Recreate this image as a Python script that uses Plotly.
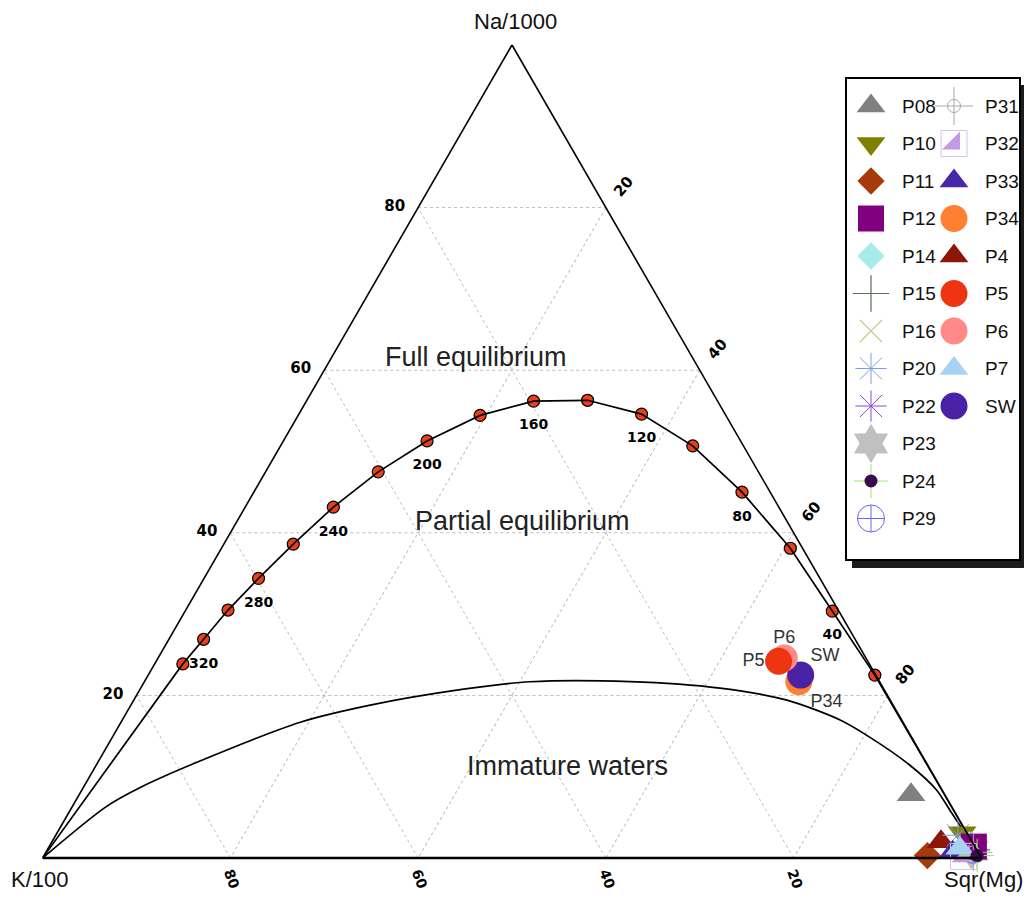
import plotly.graph_objects as go

# ---------------- data ----------------
# Full equilibrium curve (temperature marks, degC) in Na/1000 - K/100 - Sqr(Mg) percent
eq_temp = [340, 320, 300, 280, 260, 240, 220, 200, 180, 160, 140, 120, 100, 80, 60, 40, 20]
eq_na = [23.9, 26.9, 30.5, 34.4, 38.6, 43.2, 47.5, 51.3, 54.5, 56.2, 56.3, 54.6, 50.7, 45.0, 38.1, 30.4, 22.5]
eq_k = [73.2, 69.4, 65.0, 59.8, 54.0, 47.5, 40.5, 33.4, 26.2, 19.6, 13.8, 8.9, 5.4, 3.0, 1.3, 0.7, 0.1]
eq_mg = [3.0, 3.7, 4.5, 5.8, 7.4, 9.4, 12.0, 15.3, 19.4, 24.2, 29.9, 36.5, 43.9, 52.0, 60.6, 69.0, 77.4]
eq_labelled = [320, 280, 240, 200, 160, 120, 80, 40]

# Immature waters boundary
imm_na = [0, 6.3, 8.7, 11.8, 16.7, 18.8, 20.5, 21.7, 21.7, 20.9, 19.4, 17.0, 14.9, 11.4, 8.4, 5.7, 0]
imm_k = [100, 90.2, 85.2, 77.6, 64.2, 55.7, 46.3, 37.3, 26.6, 17.4, 11.0, 6.6, 4.5, 1.9, 0.6, 0.4, 0]
imm_mg = [0, 3.6, 6.1, 10.6, 19.1, 25.5, 33.1, 41.1, 51.7, 61.7, 69.5, 76.4, 80.6, 86.6, 91.0, 94.0, 100]

# Samples
samples = ["P08", "P10", "P11", "P12", "P14", "P15", "P16", "P20", "P22", "P23", "P24", "P29",
           "P31", "P32", "P33", "P34", "P4", "P5", "P6", "P7", "SW"]
s_na = [7.8, 3.1, 0.3, 1.4, 1.6, 1.0, 0.8, 2.8, 1.2, 0.9, 0.3, 1.0,
        0.7, 0.2, 0.7, 21.7, 2.0, 24.2, 24.6, 1.2, 22.5]
s_k = [3.6, 0.5, 5.6, 0.1, 0.5, 0.5, 0.8, 1.1, 0.6, 0.6, 0.3, 0.4,
       0.5, 1.8, 2.7, 8.6, 3.3, 9.5, 8.7, 1.7, 8.0]
s_mg = [88.7, 96.4, 94.1, 98.5, 97.9, 98.5, 98.4, 96.1, 98.2, 98.5, 99.4, 98.6,
        98.8, 98.0, 96.6, 69.7, 94.7, 66.3, 66.7, 97.1, 69.5]
labelled_samples = ["P5", "P6", "SW", "P34"]

tick_vals = [20, 40, 60, 80]
region_names = ["Full equilibrium", "Partial equilibrium", "Immature waters"]
axis_titles = ["Na/1000", "K/100", "Sqr(Mg)"]

# ---------------- styles / layout ----------------
OFF = 8                                # html body margin
W, H = 1032 - 2 * OFF, 900 - 2 * OFF   # figure size that fits the window without scrolling
style = {
    "P08": dict(symbol="triangle-up", color="#808080", size=25),
    "P10": dict(symbol="triangle-down", color="#808000", size=25),
    "P11": dict(symbol="diamond", color="#A63A0A", size=21),
    "P12": dict(symbol="square", color="#800080", size=26),
    "P14": dict(symbol="diamond", color="#A8ECEA", size=21),
    "P15": dict(symbol="cross-thin-open", color="#55705A", size=26, lw=1.2),
    "P16": dict(symbol="x-thin-open", color="#C8C890", size=22, lw=1.2),
    "P20": dict(symbol="asterisk-open", color="#7C9CEC", size=26, lw=1.0),
    "P22": dict(symbol="asterisk-open", color="#8A48DC", size=26, lw=1.0),
    "P23": dict(symbol="hexagram", color="#C0C0C0", size=30),
    "P24": dict(symbol="circle", color="#3A0A4E", size=13, over=("cross-thin-open", "#9BE860", 24)),
    "P29": dict(symbol="circle-cross-open", color="#6A66EE", size=27, lw=1.0),
    "P31": dict(symbol="circle-open", color="#A8A8A8", size=13, lw=1.0, over=("cross-thin-open", "#A8A8A8", 27)),
    "P32": dict(symbol="triangle-se", color="#C49AE4", size=20, over=("square-open", "#D8C0F0", 26)),
    "P33": dict(symbol="triangle-up", color="#4628A8", size=25),
    "P34": dict(symbol="circle", color="#FF8030", size=27),
    "P4": dict(symbol="triangle-up", color="#8E1608", size=25),
    "P5": dict(symbol="circle", color="#EE3410", size=27),
    "P6": dict(symbol="circle", color="#FF8A88", size=27),
    "P7": dict(symbol="triangle-up", color="#A8D2F4", size=25),
    "SW": dict(symbol="circle", color="#4A22A6", size=27),
}
# text position and (invisible) spacer size that sets the text offset
label_pos = {"P5": ("middle left", 21), "P6": ("top center", 15),
             "SW": ("top right", 14), "P34": ("bottom right", 17)}
draw_order = ["P08", "P11", "P4", "P10", "P20", "P22", "P15", "P16", "P23", "P29", "P33", "P14",
              "P12", "P32", "P31", "P7", "P24", "P34", "SW", "P6", "P5"]

FONT = "Liberation Sans, Arial, sans-serif"
BOLD = "DejaVu Sans, sans-serif"
CLEAR = "rgba(0,0,0,0)"


def marker_of(st, symbol=None, color=None, size=None):
    sym = symbol or st["symbol"]
    col = color or st["color"]
    lw = st.get("lw", 0) if symbol is None else 1.0
    return dict(symbol=sym, color=col, size=size or st["size"],
                line=dict(color=col, width=lw), opacity=1)


fig = go.Figure()

# full equilibrium: markers below line, temperature labels below markers
fig.add_trace(go.Scatterternary(
    a=eq_na, b=eq_k, c=eq_mg, mode="markers",
    marker=dict(symbol="circle", size=12, color="#E8401A", line=dict(color="black", width=1.2)),
    cliponaxis=False, showlegend=False, hoverinfo="skip"))
fig.add_trace(go.Scatterternary(
    a=[0] + eq_na + [0], b=[100] + eq_k + [0], c=[0] + eq_mg + [100], mode="lines",
    line=dict(color="black", width=1.7), showlegend=False, hoverinfo="skip"))
fig.add_trace(go.Scatterternary(
    a=eq_na, b=eq_k, c=eq_mg, mode="markers+text",
    marker=dict(size=27, color=CLEAR),
    text=[str(t) if t in eq_labelled else "" for t in eq_temp],
    textposition="bottom center",
    textfont=dict(family=BOLD, size=14, color="black", weight="bold"),
    cliponaxis=False, showlegend=False, hoverinfo="skip"))

# immature waters boundary
fig.add_trace(go.Scatterternary(
    a=imm_na, b=imm_k, c=imm_mg, mode="lines",
    line=dict(color="black", width=1.7, shape="spline", smoothing=0.8),
    showlegend=False, hoverinfo="skip"))

# samples
idx = {s: i for i, s in enumerate(samples)}
for s in draw_order:
    i = idx[s]
    st = style[s]
    if "over" in st:
        osym, ocol, osz = st["over"]
        fig.add_trace(go.Scatterternary(
            a=[s_na[i]], b=[s_k[i]], c=[s_mg[i]], mode="markers",
            marker=marker_of(st, osym, ocol, osz), cliponaxis=False,
            showlegend=False, hoverinfo="skip"))
    fig.add_trace(go.Scatterternary(
        a=[s_na[i]], b=[s_k[i]], c=[s_mg[i]], name=s, mode="markers",
        marker=marker_of(st), cliponaxis=False, showlegend=False))

for s in labelled_samples:
    i = idx[s]
    pos, spacer = label_pos[s]
    fig.add_trace(go.Scatterternary(
        a=[s_na[i]], b=[s_k[i]], c=[s_mg[i]], mode="markers+text",
        text=[s], textposition=pos, marker=dict(size=spacer, color=CLEAR),
        textfont=dict(family=FONT, size=18, color="#333333"),
        cliponaxis=False, showlegend=False, hoverinfo="skip"))

# ---------------- custom legend (two columns), window pixel coordinates ----------------
col1 = samples[:12]
col2 = samples[12:]
leg_top, leg_step = 106, 37.5
col_mx = [871, 954]
col_tx = [900, 983]
annotations = []
for c, names in enumerate([col1, col2]):
    for r, s in enumerate(names):
        st = style[s]
        yy = leg_top + r * leg_step
        if "over" in st:
            osym, ocol, osz = st["over"]
            fig.add_trace(go.Scatter(x=[col_mx[c]], y=[yy], mode="markers",
                                     marker=marker_of(st, osym, ocol, osz),
                                     showlegend=False, hoverinfo="skip", cliponaxis=False))
        fig.add_trace(go.Scatter(x=[col_mx[c]], y=[yy], mode="markers",
                                 marker=marker_of(st), showlegend=False,
                                 hoverinfo="skip", cliponaxis=False))
        annotations.append(dict(x=col_tx[c], y=yy, xref="x", yref="y", text=s, showarrow=False,
                                xanchor="left", yanchor="middle",
                                font=dict(family=FONT, size=19, color="#111111")))

# region labels
region_xy = [(476, 357), (522, 521), (567, 766)]
for name, (x, y) in zip(region_names, region_xy):
    annotations.append(dict(x=x, y=y, xref="x", yref="y", text=name, showarrow=False,
                            xanchor="center", yanchor="middle",
                            font=dict(family=FONT, size=27, color="#222222")))

# axis (corner) titles
title_xy = [(515, 21), (40, 879), (983, 879)]
for name, (x, y) in zip(axis_titles, title_xy):
    annotations.append(dict(x=x, y=y, xref="x", yref="y", text=name, showarrow=False,
                            xanchor="center", yanchor="middle",
                            font=dict(family=FONT, size=22, color="#111111")))

shapes = [
    dict(type="rect", xref="x", yref="y", x0=852, y0=85, x1=OFF + W, y1=568,
         fillcolor="#1c1c1c", line=dict(width=0), layer="below"),
    dict(type="rect", xref="x", yref="y", x0=846, y0=78, x1=1020, y1=560,
         fillcolor="white", line=dict(color="black", width=2), layer="below"),
]


def tern_axis(angle, tlen, lw, fsize):
    return dict(title=dict(text=""), min=0,
                tickmode="array", tickvals=tick_vals, ticktext=[str(v) for v in tick_vals],
                ticks="outside" if tlen else "", ticklen=max(tlen, 1), tickcolor=CLEAR,
                tickfont=dict(family=BOLD, size=fsize, color="black", weight="bold"),
                tickangle=angle,
                showgrid=True, gridcolor="#bdbdbd", gridwidth=1, griddash="dot",
                showline=True, linecolor="black", linewidth=lw)


# triangle corners in window pixels: K (42, 858), Mg (982, 858), Na apex (512, 45)
fig.update_layout(
    width=W, height=H, autosize=False,
    margin=dict(l=0, r=0, t=0, b=0, pad=0),
    paper_bgcolor="white", plot_bgcolor=CLEAR,
    showlegend=False,
    ternary=dict(
        domain=dict(x=[(42 - OFF) / W, (982 - OFF) / W],
                    y=[(OFF + H - 858) / H, (OFF + H - 45) / H]),
        sum=100, bgcolor="white",
        aaxis=tern_axis(0, 10, 1.6, 15),
        baxis=tern_axis(70, 0, 2.4, 14),
        caxis=tern_axis(-50, 12, 1.6, 15),
    ),
    xaxis=dict(range=[OFF, OFF + W], domain=[0, 1], visible=False, fixedrange=True),
    yaxis=dict(range=[OFF + H, OFF], domain=[0, 1], visible=False, fixedrange=True),
    annotations=annotations,
    shapes=shapes,
)

fig.write_html("out.html")
